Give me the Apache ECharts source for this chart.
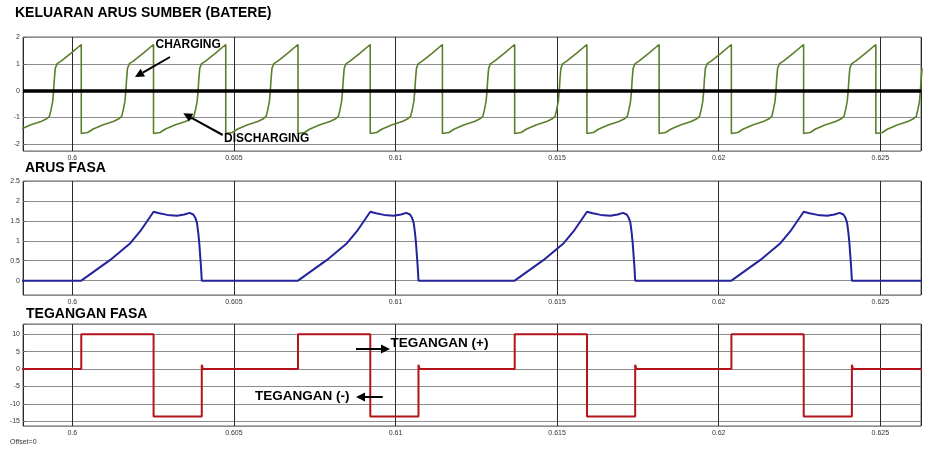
<!DOCTYPE html>
<html><head><meta charset="utf-8">
<script src="https://cdn.jsdelivr.net/npm/echarts@6/dist/echarts.min.js"></script>
<style>html,body{margin:0;padding:0;background:#fff}#c{width:925px;height:451px}</style>
</head><body><div id="c"></div>
<script>
// ---- tick labels ----
const xTicks = [0.6, 0.605, 0.61, 0.615, 0.62, 0.625];
const battTicks = [-2, -1, 0, 1, 2];
const phaseTicks = [0, 0.5, 1, 1.5, 2, 2.5];
const voltTicks = [-15, -10, -5, 0, 5, 10];

// ---- KELUARAN ARUS SUMBER (BATERE): time [s] ----
const battTime = [
  0.598043, 0.598103, 0.598243, 0.598413, 0.598723, 0.599033, 0.599193, 0.599293, 0.599343, 0.599393, 0.599423, 0.599443, 0.599473, 0.599533, 0.599653, 0.599963, 0.600278,
  0.600278, 0.600338, 0.600478, 0.600648, 0.600958, 0.601268, 0.601428, 0.601528, 0.601578, 0.601628, 0.601658, 0.601678, 0.601708, 0.601768, 0.601888, 0.602198, 0.602513,
  0.602513, 0.602573, 0.602713, 0.602883, 0.603193, 0.603503, 0.603663, 0.603763, 0.603813, 0.603863, 0.603893, 0.603913, 0.603943, 0.604003, 0.604123, 0.604433, 0.604748,
  0.604748, 0.604808, 0.604948, 0.605118, 0.605428, 0.605738, 0.605898, 0.605998, 0.606048, 0.606098, 0.606128, 0.606148, 0.606178, 0.606238, 0.606358, 0.606668, 0.606983,
  0.606983, 0.607043, 0.607183, 0.607353, 0.607663, 0.607973, 0.608133, 0.608233, 0.608283, 0.608333, 0.608363, 0.608383, 0.608413, 0.608473, 0.608593, 0.608903, 0.609218,
  0.609218, 0.609278, 0.609418, 0.609588, 0.609898, 0.610208, 0.610368, 0.610468, 0.610518, 0.610568, 0.610598, 0.610618, 0.610648, 0.610708, 0.610828, 0.611138, 0.611452,
  0.611452, 0.611512, 0.611652, 0.611822, 0.612132, 0.612442, 0.612602, 0.612702, 0.612752, 0.612802, 0.612832, 0.612852, 0.612882, 0.612942, 0.613062, 0.613372, 0.613687,
  0.613687, 0.613747, 0.613887, 0.614057, 0.614367, 0.614677, 0.614837, 0.614937, 0.614987, 0.615037, 0.615067, 0.615087, 0.615117, 0.615177, 0.615297, 0.615607, 0.615922,
  0.615922, 0.615982, 0.616122, 0.616292, 0.616602, 0.616912, 0.617072, 0.617172, 0.617222, 0.617272, 0.617302, 0.617322, 0.617352, 0.617412, 0.617532, 0.617842, 0.618157,
  0.618157, 0.618217, 0.618357, 0.618527, 0.618837, 0.619147, 0.619307, 0.619407, 0.619457, 0.619507, 0.619537, 0.619557, 0.619587, 0.619647, 0.619767, 0.620077, 0.620392,
  0.620392, 0.620452, 0.620592, 0.620762, 0.621072, 0.621382, 0.621542, 0.621642, 0.621692, 0.621742, 0.621772, 0.621792, 0.621822, 0.621882, 0.622002, 0.622312, 0.622627,
  0.622627, 0.622687, 0.622827, 0.622997, 0.623307, 0.623617, 0.623777, 0.623877, 0.623927, 0.623977, 0.624007, 0.624027, 0.624057, 0.624117, 0.624237, 0.624547, 0.624862,
  0.624862, 0.624922, 0.625062, 0.625232, 0.625542, 0.625852, 0.626012, 0.626112, 0.626162, 0.626212, 0.626242, 0.626262, 0.626292
];
// battery current [A]
const battCurrent = [
  -1.60, -1.65, -1.56, -1.43, -1.27, -1.15, -1.06, -0.96, -0.71, -0.40, 0.00, 0.40, 0.83, 1.01, 1.10, 1.40, 1.72,
  -1.60, -1.65, -1.56, -1.43, -1.27, -1.15, -1.06, -0.96, -0.71, -0.40, 0.00, 0.40, 0.83, 1.01, 1.10, 1.40, 1.72,
  -1.60, -1.65, -1.56, -1.43, -1.27, -1.15, -1.06, -0.96, -0.71, -0.40, 0.00, 0.40, 0.83, 1.01, 1.10, 1.40, 1.72,
  -1.60, -1.65, -1.56, -1.43, -1.27, -1.15, -1.06, -0.96, -0.71, -0.40, 0.00, 0.40, 0.83, 1.01, 1.10, 1.40, 1.72,
  -1.60, -1.65, -1.56, -1.43, -1.27, -1.15, -1.06, -0.96, -0.71, -0.40, 0.00, 0.40, 0.83, 1.01, 1.10, 1.40, 1.72,
  -1.60, -1.65, -1.56, -1.43, -1.27, -1.15, -1.06, -0.96, -0.71, -0.40, 0.00, 0.40, 0.83, 1.01, 1.10, 1.40, 1.72,
  -1.60, -1.65, -1.56, -1.43, -1.27, -1.15, -1.06, -0.96, -0.71, -0.40, 0.00, 0.40, 0.83, 1.01, 1.10, 1.40, 1.72,
  -1.60, -1.65, -1.56, -1.43, -1.27, -1.15, -1.06, -0.96, -0.71, -0.40, 0.00, 0.40, 0.83, 1.01, 1.10, 1.40, 1.72,
  -1.60, -1.65, -1.56, -1.43, -1.27, -1.15, -1.06, -0.96, -0.71, -0.40, 0.00, 0.40, 0.83, 1.01, 1.10, 1.40, 1.72,
  -1.60, -1.65, -1.56, -1.43, -1.27, -1.15, -1.06, -0.96, -0.71, -0.40, 0.00, 0.40, 0.83, 1.01, 1.10, 1.40, 1.72,
  -1.60, -1.65, -1.56, -1.43, -1.27, -1.15, -1.06, -0.96, -0.71, -0.40, 0.00, 0.40, 0.83, 1.01, 1.10, 1.40, 1.72,
  -1.60, -1.65, -1.56, -1.43, -1.27, -1.15, -1.06, -0.96, -0.71, -0.40, 0.00, 0.40, 0.83, 1.01, 1.10, 1.40, 1.72,
  -1.60, -1.65, -1.56, -1.43, -1.27, -1.15, -1.06, -0.96, -0.71, -0.40, 0.00, 0.40, 0.83
];

// ---- ARUS FASA ----
const phaseTime = [
  0.598,
  0.600278, 0.601175, 0.601794, 0.602103, 0.602515, 0.602691, 0.602939, 0.603239, 0.603465, 0.603629, 0.603743, 0.603805, 0.603858, 0.603898, 0.603929, 0.603982, 0.604006,
  0.606983, 0.607880, 0.608499, 0.608808, 0.609220, 0.609396, 0.609644, 0.609944, 0.610170, 0.610334, 0.610448, 0.610510, 0.610563, 0.610603, 0.610634, 0.610687, 0.610711,
  0.613688, 0.614585, 0.615204, 0.615513, 0.615925, 0.616101, 0.616349, 0.616649, 0.616875, 0.617039, 0.617153, 0.617215, 0.617268, 0.617308, 0.617339, 0.617392, 0.617416,
  0.620393, 0.621290, 0.621909, 0.622218, 0.622630, 0.622806, 0.623054, 0.623354, 0.623580, 0.623744, 0.623858, 0.623920, 0.623973, 0.624013, 0.624044, 0.624097, 0.624121,
  0.627
];
const phaseCurrent = [
  0,
  0, 0.52, 0.94, 1.24, 1.73, 1.69, 1.65, 1.63, 1.66, 1.70, 1.66, 1.58, 1.45, 1.20, 0.94, 0.35, 0,
  0, 0.52, 0.94, 1.24, 1.73, 1.69, 1.65, 1.63, 1.66, 1.70, 1.66, 1.58, 1.45, 1.20, 0.94, 0.35, 0,
  0, 0.52, 0.94, 1.24, 1.73, 1.69, 1.65, 1.63, 1.66, 1.70, 1.66, 1.58, 1.45, 1.20, 0.94, 0.35, 0,
  0, 0.52, 0.94, 1.24, 1.73, 1.69, 1.65, 1.63, 1.66, 1.70, 1.66, 1.58, 1.45, 1.20, 0.94, 0.35, 0,
  0
];

// ---- TEGANGAN FASA ----
const voltTime = [
  0.598, 0.600278, 0.600278, 0.602515, 0.602515, 0.604006, 0.604006, 0.604040,
  0.606983, 0.606983, 0.609220, 0.609220, 0.610711, 0.610711, 0.610745,
  0.613688, 0.613688, 0.615925, 0.615925, 0.617416, 0.617416, 0.617450,
  0.620393, 0.620393, 0.622630, 0.622630, 0.624121, 0.624121, 0.624155,
  0.627
];
const voltValue = [
  0, 0, 10, 10, -13.6, -13.6, 1.2, 0,
  0, 10, 10, -13.6, -13.6, 1.2, 0,
  0, 10, 10, -13.6, -13.6, 1.2, 0,
  0, 10, 10, -13.6, -13.6, 1.2, 0,
  0
];

const pairs = (xs, ys) => xs.map((x, i) => [x, ys[i]]);
const FONT = 'Liberation Sans, Arial, sans-serif';

function tickFmt(ticks, tol) {
  return function (v) {
    const t = ticks.find(k => Math.abs(k - v) < tol);
    return t === undefined ? '' : String(t);
  };
}

const gridsPos = [
  { left: 23, right: 4, top: 37, height: 114 },
  { left: 23, right: 4, top: 181, height: 114 },
  { left: 23, right: 4, top: 324, height: 102 }
];
const yRanges = [[-2.25, 2], [-0.36, 2.5], [-16.3, 12.9]];
const yTickSets = [battTicks, phaseTicks, voltTicks];

const grid = gridsPos.map(g => Object.assign({ show: true, borderColor: '#666', borderWidth: 1, backgroundColor: '#fff' }, g));

const xAxis = gridsPos.map((g, i) => ({
  type: 'value', gridIndex: i, min: 0.598475, max: 0.626259, splitNumber: 5,
  axisLine: { show: false }, axisTick: { show: false },
  axisLabel: { show: true, margin: 4, fontSize: 7, color: '#333', fontFamily: FONT,
    showMinLabel: false, showMaxLabel: false, formatter: tickFmt(xTicks, 1e-7) },
  splitLine: { show: true, lineStyle: { color: '#2a2a2a', width: 1 } }
}));

const yAxis = gridsPos.map((g, i) => ({
  type: 'value', gridIndex: i, min: yRanges[i][0], max: yRanges[i][1], splitNumber: 5,
  axisLine: { show: false },
  axisTick: { show: true, inside: true, length: 3, lineStyle: { color: '#666' } },
  axisLabel: { show: true, margin: 3, fontSize: 7, color: '#333', fontFamily: FONT,
    showMinLabel: false, formatter: tickFmt(yTickSets[i], 1e-6) },
  splitLine: { show: true, lineStyle: { color: '#8c8c8c', width: 1 } }
}));

function arrow(x1, y1, x2, y2) {
  const dx = x2 - x1, dy = y2 - y1, L = Math.hypot(dx, dy);
  const ux = dx / L, uy = dy / L, hl = 9, hw = 4.5;
  const bx = x2 - ux * hl, by = y2 - uy * hl;
  return [
    { type: 'line', shape: { x1: x1, y1: y1, x2: bx, y2: by }, style: { stroke: '#000', lineWidth: 2 }, z: 100 },
    { type: 'polygon', shape: { points: [[x2, y2], [bx - uy * hw, by + ux * hw], [bx + uy * hw, by - ux * hw]] }, style: { fill: '#000' }, z: 100 }
  ];
}
function label(text, x, y, size) {
  return { type: 'text', left: x, top: y - size * 0.62, z: 100,
    style: { text: text, fill: '#000', font: 'bold ' + size + 'px ' + FONT } };
}

const graphic = [
  label('KELUARAN ARUS SUMBER (BATERE)', 15, 15, 14),
  label('ARUS FASA', 25, 170, 14),
  label('TEGANGAN FASA', 26, 315.5, 14),
  label('CHARGING', 155.5, 46, 12),
  label('DISCHARGING', 224, 140.5, 12),
  label('TEGANGAN (+)', 390.5, 345, 13.5),
  label('TEGANGAN (-)', 255, 398, 13.5),
  { type: 'text', left: 10, top: 439, z: 100, style: { text: 'Offset=0', fill: '#333', font: '7px ' + FONT } }
].concat(arrow(170, 57, 135, 77))
 .concat(arrow(222.7, 135, 183.3, 113.3))
 .concat(arrow(356, 349, 390, 349))
 .concat(arrow(382.7, 397, 356, 397));

const chart = echarts.init(document.getElementById('c'), null, { renderer: 'canvas' });
chart.setOption({
  animation: false,
  backgroundColor: '#fff',
  grid: grid, xAxis: xAxis, yAxis: yAxis,
  graphic: graphic,
  series: [
    { type: 'line', xAxisIndex: 0, yAxisIndex: 0, data: pairs(battTime, battCurrent),
      showSymbol: false, clip: true, lineStyle: { color: '#5b7f2c', width: 1.6 }, z: 3,
      markLine: { silent: true, symbol: 'none', label: { show: false },
        lineStyle: { color: '#000', width: 3.5, type: 'solid' }, data: [{ yAxis: 0 }] } },
    { type: 'line', xAxisIndex: 1, yAxisIndex: 1, data: pairs(phaseTime, phaseCurrent),
      showSymbol: false, clip: true, lineStyle: { color: '#23239c', width: 2 } },
    { type: 'line', xAxisIndex: 2, yAxisIndex: 2, data: pairs(voltTime, voltValue),
      showSymbol: false, clip: true, lineStyle: { color: '#b3141c', width: 2 } }
  ]
});
</script></body></html>
